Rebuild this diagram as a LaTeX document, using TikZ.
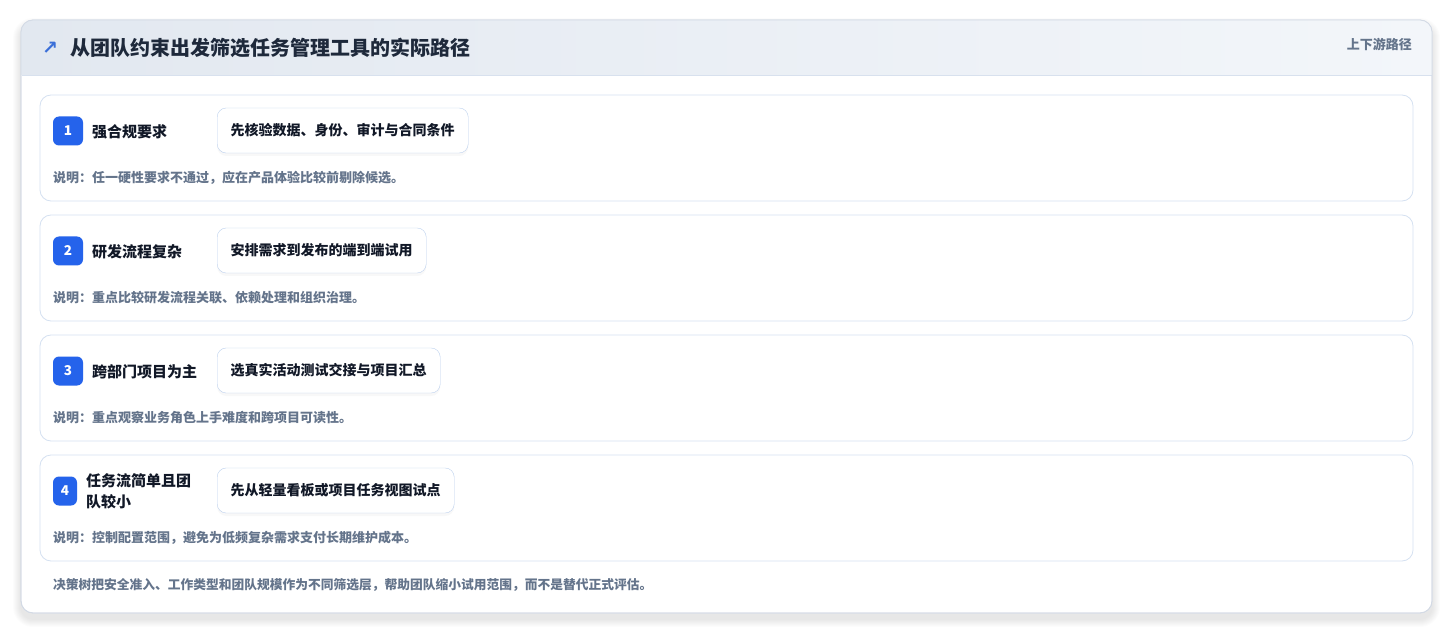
\documentclass[tikz,border=0pt]{standalone}
\usepackage{fontspec}
\setmainfont{Noto Sans CJK SC}
\newfontfamily\symfont{DejaVu Sans}
\usetikzlibrary{shadows}
\definecolor{cardline}{HTML}{D3DAE5}
\definecolor{headleft}{HTML}{E2E8F0}
\definecolor{headright}{HTML}{F3F6FA}
\definecolor{headline}{HTML}{D8E1EE}
\definecolor{rowline}{HTML}{D5E1F1}
\definecolor{badgeblue}{HTML}{2563EB}
\definecolor{actline}{HTML}{BCD0EE}
\definecolor{titledark}{HTML}{1E293B}
\definecolor{labdark}{HTML}{111827}
\definecolor{notegray}{HTML}{64748B}
\definecolor{iconblue}{HTML}{3B6FD8}

\begin{document}
\begin{tikzpicture}[x=1pt,y=-1pt]
\tikzset{rowbox/.style={draw=rowline,fill=white,rounded corners=11,line width=.8pt,minimum width=1373pt,minimum height=106pt,inner sep=0pt}}
\tikzset{badge/.style={fill=badgeblue,rounded corners=6,minimum height=29pt,inner sep=0pt,text=white,font=\fontsize{13.5}{15}\selectfont\bfseries}}
\tikzset{lab/.style={anchor=west,inner sep=0pt,text=labdark,align=left,font=\fontsize{15}{21}\selectfont\bfseries}}
\tikzset{act/.style={draw=actline,fill=white,rounded corners=9,minimum height=45pt,inner xsep=13.5pt,anchor=west,text=labdark,font=\fontsize{14}{16}\selectfont\bfseries,drop shadow={opacity=.05,shadow xshift=0pt,shadow yshift=-3pt}}}
\tikzset{note/.style={anchor=west,inner sep=0pt,text=notegray,font=\fontsize{13}{15}\selectfont\bfseries}}
\useasboundingbox (0,0) rectangle (1453,636);
% soft shadow of the card
\foreach \k in {1,...,8}
	\fill[black,opacity=.012,rounded corners=12+\k] (21-\k,26-\k) rectangle (1432+\k,619+\k);
\draw[draw=cardline,fill=white,rounded corners=12,line width=.8pt] (21,20) rectangle (1432,613);
% header band
\begin{scope}
\clip[rounded corners=12] (21,20) rectangle (1432,613);
\shade[left color=headleft,right color=headright] (21,20) rectangle (1432,75);
\end{scope}
\draw[headline,line width=.8pt] (21.5,75) -- (1431.5,75);
\draw[draw=cardline,rounded corners=12,line width=.8pt] (21,20) rectangle (1432,613);
\node[anchor=center,text=iconblue,font=\fontsize{19}{20}\selectfont\symfont\bfseries] (icon) at (50,48) {↗};
\node[anchor=west,inner sep=0pt,text=titledark,font=\fontsize{20}{24}\selectfont\bfseries] (title) at (70,48) {从团队约束出发筛选任务管理工具的实际路径};
\node[anchor=east,inner sep=0pt,text=notegray,font=\fontsize{13}{15}\selectfont\bfseries] (tag) at (1412,44) {上下游路径};

\foreach \i/\bw/\lx/\lab/\act/\note in {
	1/30/92/强合规要求/先核验数据、身份、审计与合同条件/说明：任一硬性要求不通过，应在产品体验比较前剔除候选。,
	2/30/92/研发流程复杂/安排需求到发布的端到端试用/说明：重点比较研发流程关联、依赖处理和组织治理。,
	3/30/92/跨部门项目为主/选真实活动测试交接与项目汇总/说明：重点观察业务角色上手难度和跨项目可读性。,
	4/24/86/{任务流简单且团\\队较小}/先从轻量看板或项目任务视图试点/说明：控制配置范围，避免为低频复杂需求支付长期维护成本。}
{
	\pgfmathsetmacro\ty{95+120*(\i-1)}
	\node[rowbox] (row\i) at (726.5,\ty+53) {};
	\node[badge,minimum width=\bw pt] (num\i) at (53+\bw/2,\ty+36) {\i};
	\node[lab] (lab\i) at (\lx,\ty+36.5) {\lab};
	\node[act] (act\i) at (217,\ty+35.5) {\act};
	\node[note] (note\i) at (53,\ty+83) {\note};
}
\node[note,font=\fontsize{12.75}{15}\selectfont\bfseries] (foot) at (53,585) {决策树把安全准入、工作类型和团队规模作为不同筛选层，帮助团队缩小试用范围，而不是替代正式评估。};
\end{tikzpicture}
\end{document}
